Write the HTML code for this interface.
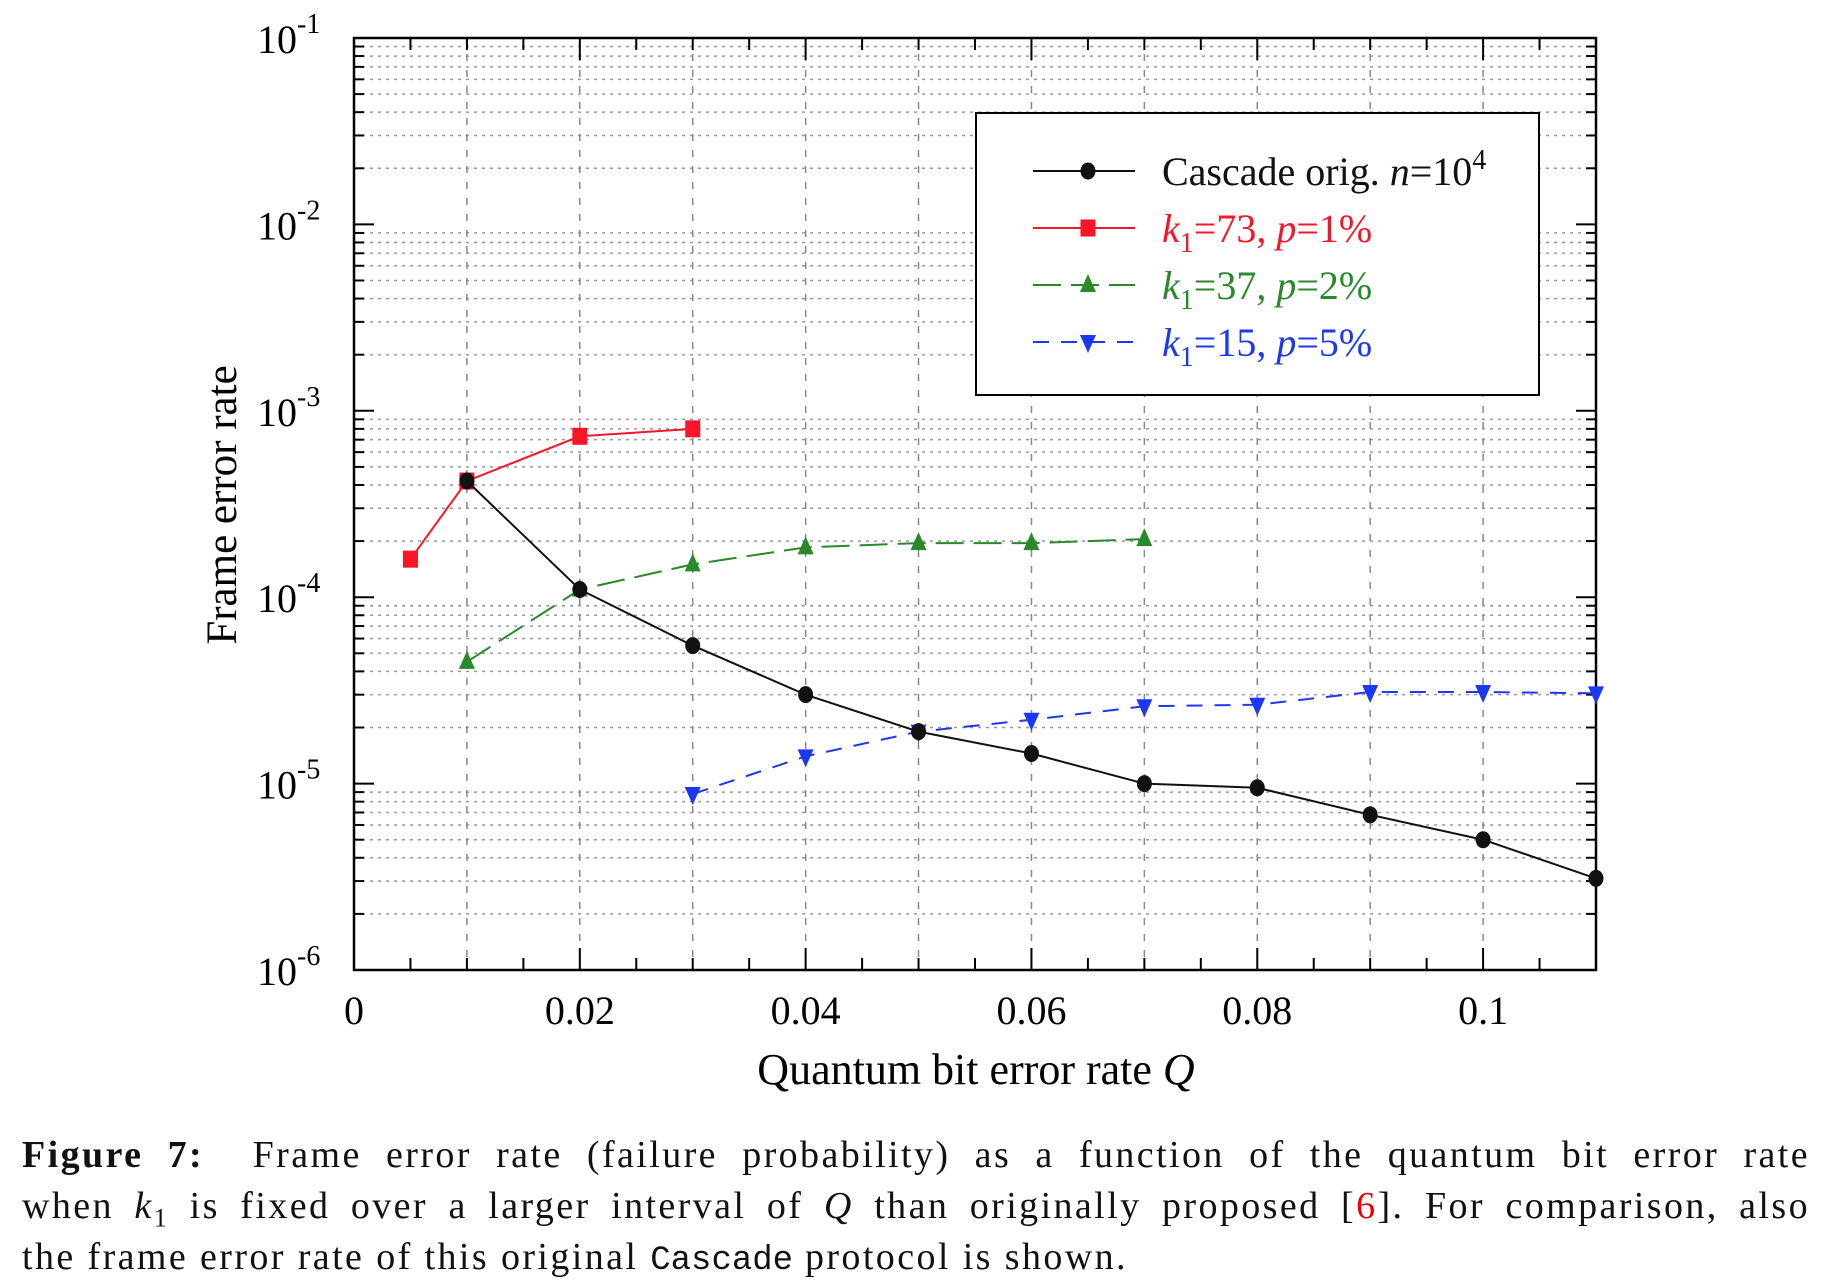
<!DOCTYPE html>
<html><head><meta charset="utf-8"><style>
html,body{margin:0;padding:0;background:#fff;}
#cap{position:absolute;left:22px;top:1130px;width:1788px;font-family:"Liberation Serif",serif;font-size:38px;line-height:51px;color:#111;letter-spacing:2.4px;}
#cap .j{text-align:justify;text-align-last:justify;white-space:nowrap;}
#cap sub{line-height:0;}
</style></head><body>
<svg id="chart" width="1826" height="1120" style="position:absolute;left:0;top:0" xmlns="http://www.w3.org/2000/svg" font-family="Liberation Serif, serif">
<g id="grid"></g>
<g id="axes"></g>
<g id="series"></g>
<g id="legend"></g>
</svg>
<div id="cap">
<div class="j"><b>Figure 7:</b>&nbsp; Frame error rate (failure probability) as a function of the quantum bit error rate</div>
<div class="j">when <i>k</i><sub style="font-size:26px">1</sub> is fixed over a larger interval of <i>Q</i> than originally proposed [<span style="color:#e00">6</span>]. For comparison, also</div>
<div>the frame error rate of this original <span style="font-family:'Liberation Mono',monospace;font-size:34px;letter-spacing:0">Cascade</span> protocol is shown.</div>
</div>
<script>
const xTicks=[0,0.02,0.04,0.06,0.08,0.1];
const xTickLabels=["0","0.02","0.04","0.06","0.08","0.1"];
const yExps=[-1,-2,-3,-4,-5,-6];
const cascadeQ=[0.01,0.02,0.03,0.04,0.05,0.06,0.07,0.08,0.09,0.1,0.11];
const cascadeV=[4.2e-4,1.1e-4,5.5e-5,3.0e-5,1.9e-5,1.45e-5,1.0e-5,9.5e-6,6.8e-6,5.0e-6,3.1e-6];
const k73Q=[0.005,0.01,0.02,0.03];
const k73V=[1.6e-4,4.2e-4,7.3e-4,8.0e-4];
const k37Q=[0.01,0.02,0.03,0.04,0.05,0.06,0.07];
const k37V=[4.5e-5,1.1e-4,1.5e-4,1.85e-4,1.95e-4,1.95e-4,2.05e-4];
const k15Q=[0.03,0.04,0.05,0.06,0.07,0.08,0.09,0.1,0.11];
const k15V=[8.8e-6,1.4e-5,1.9e-5,2.2e-5,2.6e-5,2.65e-5,3.1e-5,3.1e-5,3.05e-5];

const L=354,R=1596,T=38,B=970,XMAX=0.11;
const X=v=>L+(v/XMAX)*(R-L);
const Y=v=>T+(-1-Math.log10(v))*(B-T)/5;
const NS="http://www.w3.org/2000/svg";
function mk(tag,attrs,parent){const e=document.createElementNS(NS,tag);for(const k in attrs)e.setAttribute(k,attrs[k]);parent.appendChild(e);return e;}
const grid=document.getElementById('grid'),axes=document.getElementById('axes'),ser=document.getElementById('series'),leg=document.getElementById('legend');

for(let e=-6;e<-1;e++){for(let m=1;m<10;m++){const v=m*Math.pow(10,e);const y=Y(v);
 if(m>1){const g=mk('line',{x1:L,x2:R,y1:y,y2:y,stroke:'#999','stroke-width':1.5,'stroke-dasharray':'3,5'},grid);
 
 }
 const t=mk('line',{x1:L,x2:L+(m==1?20:10),y1:y,y2:y,stroke:'#000','stroke-width':2},axes);
 
 
 const t2=mk('line',{x1:R,x2:R-(m==1?20:10),y1:y,y2:y,stroke:'#000','stroke-width':2},axes);
 
 }}
for(let i=1;i<=10;i++){const x=X(i*0.01);const g=mk('line',{x1:x,x2:x,y1:T,y2:B,stroke:'#888','stroke-width':1.5,'stroke-dasharray':'7,9'},grid);
 
 }
for(let i=1;i<22;i++){const v=i*0.005,x=X(v),len=(i%4==0)?22:12;
 const a=mk('line',{x1:x,x2:x,y1:B,y2:B-len,stroke:'#000','stroke-width':2},axes);
 
 
 const b=mk('line',{x1:x,x2:x,y1:T,y2:T+len,stroke:'#000','stroke-width':2},axes);
 
 }
const fr=mk('rect',{x:L,y:T,width:R-L,height:B-T,fill:'none',stroke:'#000','stroke-width':2.5},axes);


xTicks.forEach((v,i)=>{const t=mk('text',{x:X(v),y:B+54,'font-size':40,'text-anchor':'middle'},axes);t.textContent=xTickLabels[i];
 
 });
yExps.forEach(e=>{const y=Y(Math.pow(10,e));const t=mk('text',{x:257,y:y+15,'font-size':40},axes);t.textContent='10';
 const s=mk('tspan',{dy:-20,'font-size':28},t);s.textContent=String(e);
 
 });
const xl=mk('text',{x:976,y:1084,'font-size':44,'text-anchor':'middle'},axes);xl.innerHTML='Quantum bit error rate <tspan font-style="italic">Q</tspan>';


const yl=mk('text',{x:0,y:0,'font-size':43,'text-anchor':'middle',transform:'translate(236,505) rotate(-90)'},axes);yl.textContent='Frame error rate';



function marker(shape,x,y,col,parent){
 if(shape=='circle')return mk('ellipse',{cx:x,cy:y,rx:7.5,ry:8.5,fill:col},parent);
 if(shape=='square')return mk('rect',{x:x-7.5,y:y-8.5,width:15,height:17,fill:col},parent);
 if(shape=='up')return mk('polygon',{points:`${x},${y-11} ${x-8},${y+7} ${x+8},${y+7}`,fill:col},parent);
 return mk('polygon',{points:`${x-8},${y-7} ${x+8},${y-7} ${x},${y+11}`,fill:col},parent);}
function series(name,qs,vs,col,dash,shape){
 const g=mk('g',{},ser);
 const p=mk('polyline',{points:qs.map((q,i)=>X(q)+','+Y(vs[i])).join(' '),fill:'none',stroke:col,'stroke-width':2,'stroke-dasharray':dash},g);
 
 
 qs.forEach((q,i)=>{const m=marker(shape,X(q),Y(vs[i]),col,g);
  
  });}
series('series-k1-73',k73Q,k73V,'#f51728','none','square');
series('series-k1-37',k37Q,k37V,'#2a8a2a','28,10','up');
series('series-k1-15',k15Q,k15V,'#1c37f5','16,12','down');
series('series-cascade',cascadeQ,cascadeV,'#111','none','circle');

const lb=mk('rect',{x:976,y:113,width:563,height:282,fill:'#fff',stroke:'#000','stroke-width':2},leg);


const legItems=[['Cascade orig. ','#111','none','circle'],['73','#f51728','none','square'],['37','#2a8a2a','28,10','up'],['15','#1c37f5','16,12','down']];
const legP=['','1','2','5'];
legItems.forEach((it,i)=>{const y=171+i*57;const g=mk('g',{},leg);
 
 
 mk('line',{x1:1033,x2:1135,y1:y,y2:y,stroke:it[1],'stroke-width':2,'stroke-dasharray':it[2]},g);
 marker(it[3],1088,y,it[1],g);
 const t=mk('text',{x:1162,y:y+14,'font-size':40,fill:it[1]},g);
 if(i==0)t.innerHTML='Cascade orig. <tspan font-style="italic">n</tspan>=10<tspan dy="-16" font-size="28">4</tspan>';
 else t.innerHTML=`<tspan font-style="italic">k</tspan><tspan dy="10" font-size="28">1</tspan><tspan dy="-10">=${it[0]}, </tspan><tspan font-style="italic">p</tspan>=${legP[i]}%`;});
</script>
</body></html>
